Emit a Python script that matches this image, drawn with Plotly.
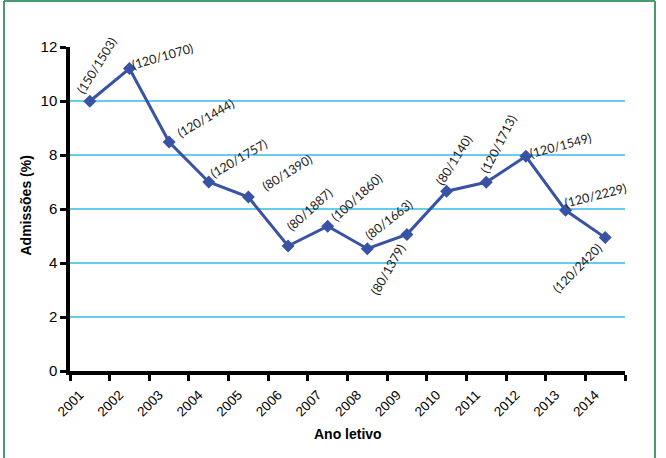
import plotly.graph_objects as go

years = ["2001", "2002", "2003", "2004", "2005", "2006", "2007",
         "2008", "2009", "2010", "2011", "2012", "2013", "2014"]
admissions = [9.99, 11.2, 8.48, 7.0, 6.44, 4.63, 5.36,
              4.53, 5.06, 6.66, 6.99, 7.95, 5.95, 4.94]
point_labels = ["(150/1503)", "(120/1070)", "(120/1444)", "(120/1757)",
                "(80/1390)", "(80/1887)", "(100/1860)", "(80/1663)",
                "(80/1379)", "(80/1140)", "(120/1713)", "(120/1549)",
                "(120/2229)", "(120/2420)"]
y_ticks = [0, 2, 4, 6, 8, 10, 12]

# label placement (style): offset in px from point, rotation
label_dx = [7, 33, 36, 30, 39, 22, 29, 22, -19, 7, 12, 35, 30, -28]
label_dy = [-36, -12, -24, -24, -25, -36, -29, -29, 35, -31, -38, -11, -15, 31]
label_ang = [-58, -16, -30, -30, -32, -42, -42, -38, -60, -58, -63, -15, -14, -45]

xpos = list(range(len(years)))

L, R, T, B = 70, 41, 47, 87
W, H = 666, 458
pw, ph = W - L - R, H - T - B


def xp(px):
    return (px - L) / pw


def yp(py):
    return 1 - (py - T) / ph


fig = go.Figure()
fig.add_trace(go.Scatter(
    x=xpos, y=admissions, mode="lines+markers",
    line=dict(color="#3953A4", width=3),
    marker=dict(symbol="diamond", size=10, color="#3953A4"),
    showlegend=False, hoverinfo="skip"))

annotations = []
for i, txt in enumerate(point_labels):
    annotations.append(dict(
        x=xpos[i], y=admissions[i], xref="x", yref="y", text=txt,
        showarrow=False, textangle=label_ang[i],
        xshift=label_dx[i], yshift=-label_dy[i],
        xanchor="center", yanchor="middle",
        font=dict(family="Lato", size=12.5, color="#1a1a1a")))

annotations.append(dict(
    x=xp(347.6), y=yp(434), xref="paper", yref="paper", text="<b>Ano letivo</b>",
    showarrow=False, xanchor="center", yanchor="middle",
    font=dict(family="Liberation Sans, Arial", size=14, color="black")))
annotations.append(dict(
    x=xp(25.5), y=yp(206), xref="paper", yref="paper", text="<b>Admissões (%)</b>",
    showarrow=False, xanchor="center", yanchor="middle", textangle=-90,
    font=dict(family="Liberation Sans, Arial", size=14, color="black")))

shapes = []
border = "#4A9A70"
shapes.append(dict(type="line", xref="paper", yref="paper",
                   x0=xp(4), x1=xp(4), y0=yp(470), y1=yp(1),
                   line=dict(color=border, width=2)))
shapes.append(dict(type="line", xref="paper", yref="paper",
                   x0=xp(4), x1=xp(655), y0=yp(1), y1=yp(1),
                   line=dict(color=border, width=2)))
shapes.append(dict(type="line", xref="paper", yref="paper",
                   x0=xp(655), x1=xp(655), y0=yp(470), y1=yp(1),
                   line=dict(color=border, width=2)))

fig.update_layout(
    width=W, height=H,
    margin=dict(l=L, r=R, t=T, b=B),
    paper_bgcolor="white", plot_bgcolor="white",
    annotations=annotations, shapes=shapes,
    xaxis=dict(
        range=[-0.5, len(years) - 0.5],
        tickmode="array", tickvals=xpos, ticktext=years,
        tickangle=-45, ticks="", showgrid=False, zeroline=False,
        ticklabelshift=-10, ticklabelstandoff=7,
        showline=True, linecolor="black", linewidth=3.5,
        tickfont=dict(family="Liberation Sans, Arial", size=13.5, color="black"),
        minor=dict(tickmode="array",
                   tickvals=[i - 0.5 for i in range(len(years) + 1)],
                   ticks="outside", ticklen=6, tickwidth=2.5, tickcolor="black",
                   showgrid=False),
    ),
    yaxis=dict(
        range=[0, 12], tickmode="array", tickvals=y_ticks,
        ticks="outside", ticklen=6, tickwidth=2.5, tickcolor="black",
        showline=True, linecolor="black", linewidth=3.5,
        showgrid=True, gridcolor="#66CCEE", gridwidth=1.5, zeroline=False,
        tickfont=dict(family="Liberation Sans, Arial", size=15, color="black"),
    ),
)

fig.write_html("out.html")
